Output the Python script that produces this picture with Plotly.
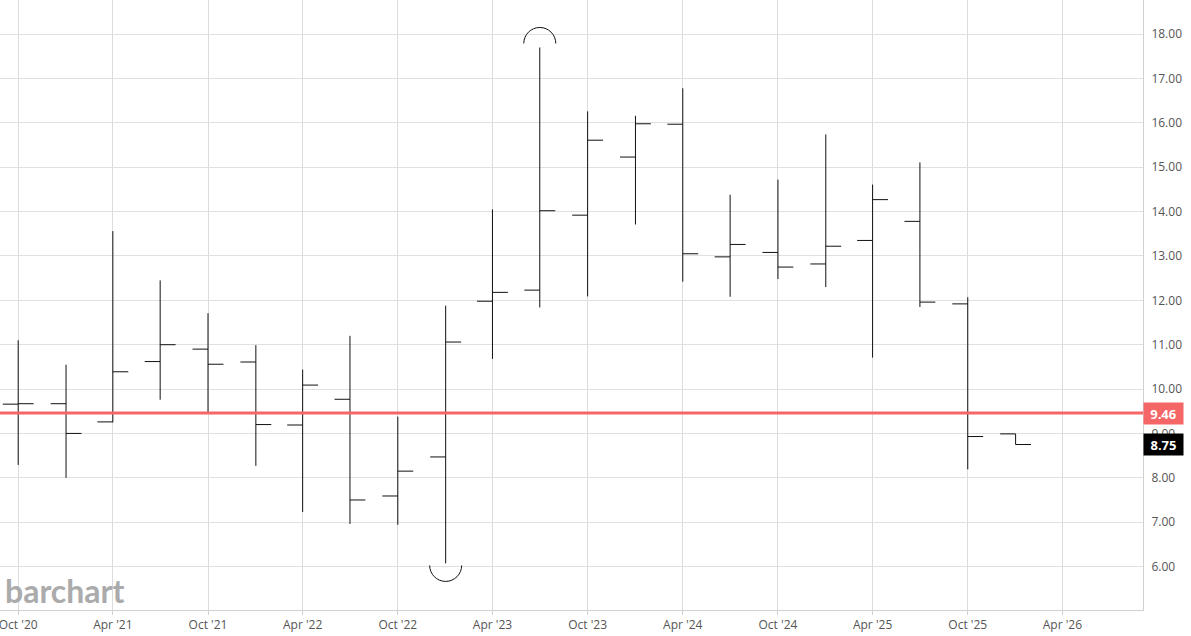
import plotly.graph_objects as go

# Quarterly OHLC data
dates = ["2020-10-01", "2021-01-01", "2021-04-01", "2021-07-01", "2021-10-01", "2022-01-01",
         "2022-04-01", "2022-07-01", "2022-10-01", "2023-01-01", "2023-04-01", "2023-07-01",
         "2023-10-01", "2024-01-01", "2024-04-01", "2024-07-01", "2024-10-01", "2025-01-01",
         "2025-04-01", "2025-07-01", "2025-10-01", "2026-01-01"]
open_ = [9.66, 9.67, 9.26, 10.62, 10.90, 10.61, 9.19, 9.77, 7.59, 8.47, 11.98, 12.23,
         13.92, 15.23, 15.97, 12.98, 13.08, 12.82, 13.35, 13.78, 11.92, 8.99]
high = [11.10, 10.55, 13.56, 12.45, 11.71, 10.99, 10.44, 11.20, 9.38, 11.88, 14.05, 17.70,
        16.26, 16.16, 16.78, 14.38, 14.72, 15.74, 14.61, 15.11, 12.07, 8.99]
low = [8.29, 8.00, 9.25, 9.76, 9.48, 8.27, 7.23, 6.96, 6.94, 6.07, 10.68, 11.84,
       12.09, 13.71, 12.42, 12.08, 12.48, 12.30, 10.71, 11.85, 8.19, 8.75]
close = [9.67, 9.00, 10.39, 11.00, 10.56, 9.20, 10.09, 7.50, 8.15, 11.06, 12.18, 14.02,
         15.61, 15.98, 13.05, 13.26, 12.75, 13.22, 14.27, 11.96, 8.93, 8.75]

ref_price = 9.46
last_price = 8.75

high_idx = high.index(max(high))
low_idx = low.index(min(low))

fig = go.Figure()
fig.add_trace(go.Ohlc(
    x=dates, open=open_, high=high, low=low, close=close,
    increasing=dict(line=dict(color="#111111", width=1)),
    decreasing=dict(line=dict(color="#111111", width=1)),
    tickwidth=0.33, showlegend=False, hoverinfo="skip",
))

k = 8.84
top_arc = f"M -16 4 C -16 {4+k} {-k} 20 0 20 C {k} 20 16 {4+k} 16 4"
bot_arc = f"M -16 -2 C -16 {-2-k} {-k} -18 0 -18 C {k} -18 16 {-2-k} 16 -2"

shapes = [
    dict(type="line", xref="paper", x0=0, x1=1, yref="y", y0=ref_price, y1=ref_price,
         line=dict(color="#f56767", width=3), layer="above"),
    dict(type="path", xref="x", yref="y", xsizemode="pixel", ysizemode="pixel",
         xanchor=dates[high_idx], yanchor=high[high_idx], path=top_arc,
         line=dict(color="#111111", width=1)),
    dict(type="path", xref="x", yref="y", xsizemode="pixel", ysizemode="pixel",
         xanchor=dates[low_idx], yanchor=low[low_idx], path=bot_arc,
         line=dict(color="#111111", width=1)),
]

annotations = [
    dict(xref="paper", x=1, xanchor="left", yref="y", y=ref_price, yanchor="middle",
         text=f"<b>{ref_price:.2f}</b>", showarrow=False, bgcolor="#f56767",
         font=dict(color="white", size=13, family="Open Sans"), width=37, height=19,
         borderpad=1),
    dict(xref="paper", x=1, xanchor="left", yref="y", y=last_price, yanchor="middle",
         text=f"<b>{last_price:.2f}</b>", showarrow=False, bgcolor="#000000",
         font=dict(color="white", size=13, family="Open Sans"), width=37, height=19,
         borderpad=1),
    dict(xref="paper", x=0, xanchor="left", xshift=3, yref="paper", y=0, yanchor="bottom",
         yshift=-2, text="barchart", showarrow=False,
         font=dict(color="#ababab", size=32, family="Lato", weight="bold")),
]

fig.update_layout(
    width=1191, height=636,
    margin=dict(l=0, r=48, t=0, b=26),
    paper_bgcolor="white", plot_bgcolor="white",
    shapes=shapes, annotations=annotations,
    font=dict(family="Open Sans", color="#555555", size=12),
    xaxis=dict(
        type="date", range=["2020-08-27", "2026-09-03"],
        tick0="2020-10-01", dtick="M6", tickformat="%b '%y",
        showgrid=True, gridcolor="#dcdcdc", gridwidth=1,
        showline=True, linecolor="#d0d0d0", linewidth=1,
        ticks="outside", ticklen=4, tickcolor="#d0d0d0",
        rangeslider=dict(visible=False), ticklabeloverflow="allow",
        tickfont=dict(size=12, color="#555555"), zeroline=False,
    ),
    yaxis=dict(
        side="right", range=[5.02, 18.77], dtick=1, tick0=0, tickformat=".2f",
        showgrid=True, gridcolor="#e0e0e0", gridwidth=1,
        showline=True, linecolor="#d0d0d0", linewidth=1, mirror=True,
        ticks="", tickfont=dict(size=12, color="#555555"), zeroline=False,
        ticklabelstandoff=5,
    ),
)

fig.write_html("out.html", config={"displayModeBar": False},
               post_script="document.body.style.margin='0';")
